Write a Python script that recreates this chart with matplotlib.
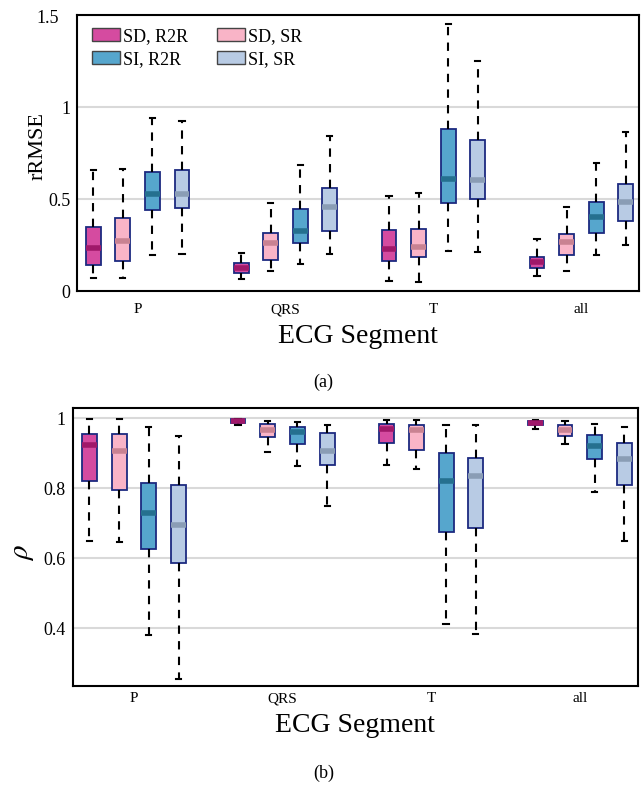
import matplotlib
matplotlib.use('Agg')
import matplotlib.pyplot as plt
import matplotlib.transforms as mtransforms
from matplotlib.patches import Patch

plt.rcParams['font.family'] = ['Liberation Serif', 'DejaVu Serif']
plt.rcParams['mathtext.fontset'] = 'stix'

segments = ['P', 'QRS', 'T', 'all']
methods = ['SD, R2R', 'SD, SR', 'SI, R2R', 'SI, SR']
face_colors = ['#d54ba0', '#f9b4c7', '#56a6cd', '#b8cbe4']
median_colors = ['#a0186a', '#c98292', '#25708f', '#8a9db5']

# (whislo, q1, median, q3, whishi) per segment, per method
rrmse = {
    'P':   [(0.072, 0.141, 0.235, 0.350, 0.656),
            (0.072, 0.163, 0.273, 0.395, 0.665),
            (0.196, 0.440, 0.529, 0.648, 0.940),
            (0.203, 0.449, 0.529, 0.656, 0.926)],
    'QRS': [(0.067, 0.096, 0.123, 0.152, 0.208),
            (0.109, 0.170, 0.263, 0.317, 0.480),
            (0.147, 0.261, 0.324, 0.447, 0.686),
            (0.200, 0.324, 0.458, 0.560, 0.844)],
    'T':   [(0.054, 0.163, 0.228, 0.330, 0.515),
            (0.051, 0.183, 0.241, 0.339, 0.534),
            (0.219, 0.478, 0.607, 0.882, 1.451),
            (0.214, 0.500, 0.602, 0.819, 1.250)],
    'all': [(0.083, 0.123, 0.156, 0.186, 0.283),
            (0.109, 0.196, 0.266, 0.308, 0.457),
            (0.194, 0.315, 0.402, 0.485, 0.696),
            (0.250, 0.379, 0.482, 0.583, 0.866)],
}

rho = {
    'P':   [(0.649, 0.822, 0.923, 0.956, 0.997),
            (0.646, 0.796, 0.906, 0.955, 0.997),
            (0.380, 0.626, 0.728, 0.815, 0.974),
            (0.255, 0.587, 0.695, 0.810, 0.949)],
    'QRS': [(0.982, 0.988, 0.993, 0.998, 0.999),
            (0.904, 0.947, 0.966, 0.985, 0.992),
            (0.864, 0.928, 0.960, 0.975, 0.991),
            (0.749, 0.866, 0.908, 0.957, 0.982)],
    'T':   [(0.867, 0.931, 0.971, 0.985, 0.996),
            (0.855, 0.909, 0.966, 0.982, 0.996),
            (0.411, 0.676, 0.820, 0.902, 0.980),
            (0.382, 0.685, 0.836, 0.887, 0.981)],
    'all': [(0.969, 0.982, 0.988, 0.993, 0.996),
            (0.928, 0.951, 0.968, 0.981, 0.993),
            (0.789, 0.885, 0.920, 0.952, 0.984),
            (0.649, 0.810, 0.885, 0.929, 0.976)],
}

offsets = [-0.3, -0.1, 0.1, 0.3]


def draw_panel(ax, data, xpad, ypad, xlab_y):
    for gi, seg in enumerate(segments):
        for mi in range(4):
            lo, q1, med, q3, hi = data[seg][mi]
            st = [{'whislo': lo, 'q1': q1, 'med': med, 'q3': q3, 'whishi': hi, 'fliers': []}]
            ax.bxp(st, positions=[gi + 1 + offsets[mi]], widths=0.1, patch_artist=True,
                   showfliers=False, capwidths=0.035,
                   boxprops=dict(facecolor=face_colors[mi], edgecolor='#1c2a80', linewidth=1.3),
                   medianprops=dict(color=median_colors[mi], linewidth=4, solid_capstyle='butt'),
                   whiskerprops=dict(color='black', linestyle=(0, (4, 3.5)), linewidth=1.5),
                   capprops=dict(color='black', linewidth=1.5))
    ax.set_xlim(0.59, 4.39)
    ax.set_xticks([1, 2, 3, 4])
    ax.set_xticklabels(segments, va='baseline')
    ax.tick_params(axis='x', length=0, labelsize=11, pad=xpad)
    ax.tick_params(axis='y', length=0, labelsize=13, pad=ypad)
    ax.yaxis.grid(True, color='#d9d9d9', linewidth=1.5)
    ax.set_axisbelow(True)
    for s in ax.spines.values():
        s.set_linewidth(1.5)
    ax.set_xlabel('ECG Segment', fontsize=20, va='baseline')
    ax.xaxis.set_label_coords(0.5, xlab_y)


fig = plt.figure(figsize=(6.41, 7.89), dpi=100)
ax1 = fig.add_axes([0.120, 0.631, 0.877, 0.350])
ax2 = fig.add_axes([0.114, 0.1305, 0.881, 0.3525])

draw_panel(ax1, rrmse, 15.8, 4.5, -52 / 276)
ax1.set_ylim(0, 1.5)
ax1.set_yticks([0, 0.5, 1, 1.5])
ax1.set_yticklabels(['0', '0.5', '1', '1.5'])
ax1.set_ylabel('rRMSE', fontsize=16)
ax1.yaxis.set_label_coords(-0.052, 0.525)
# the top label sits a bit to the left in the original
lab_top = ax1.get_yticklabels()[-1]
lab_top.set_transform(lab_top.get_transform() +
                      mtransforms.ScaledTranslation(-12 / 100, -2 / 100, fig.dpi_scale_trans))

handles = [Patch(facecolor=face_colors[i], edgecolor='#444444', linewidth=1) for i in [0, 2, 1, 3]]
labels = [methods[i] for i in [0, 2, 1, 3]]
ax1.legend(handles, labels, ncol=2, loc='upper left', frameon=False, fontsize=13,
           handlelength=1.55, handleheight=0.67, handletextpad=0.17, columnspacing=1.6,
           labelspacing=0.32, borderpad=0, borderaxespad=0,
           bbox_to_anchor=(0.027, 0.953))

draw_panel(ax2, rho, 11.5, 5.5, -46 / 278)
ax2.set_ylim(0.234, 1.03)
ax2.set_yticks([0.4, 0.6, 0.8, 1])
ax2.set_yticklabels(['0.4', '0.6', '0.8', '1'])
ax2.set_ylabel(r'$\rho$', fontsize=21)
ax2.yaxis.set_label_coords(-0.066, 0.48)

fig.text(0.505, 1 - 382 / 789, '(a)', ha='center', va='center', fontsize=13)
fig.text(0.505, 1 - 773 / 789, '(b)', ha='center', va='center', fontsize=13)

fig.savefig('out.png', dpi=100)
